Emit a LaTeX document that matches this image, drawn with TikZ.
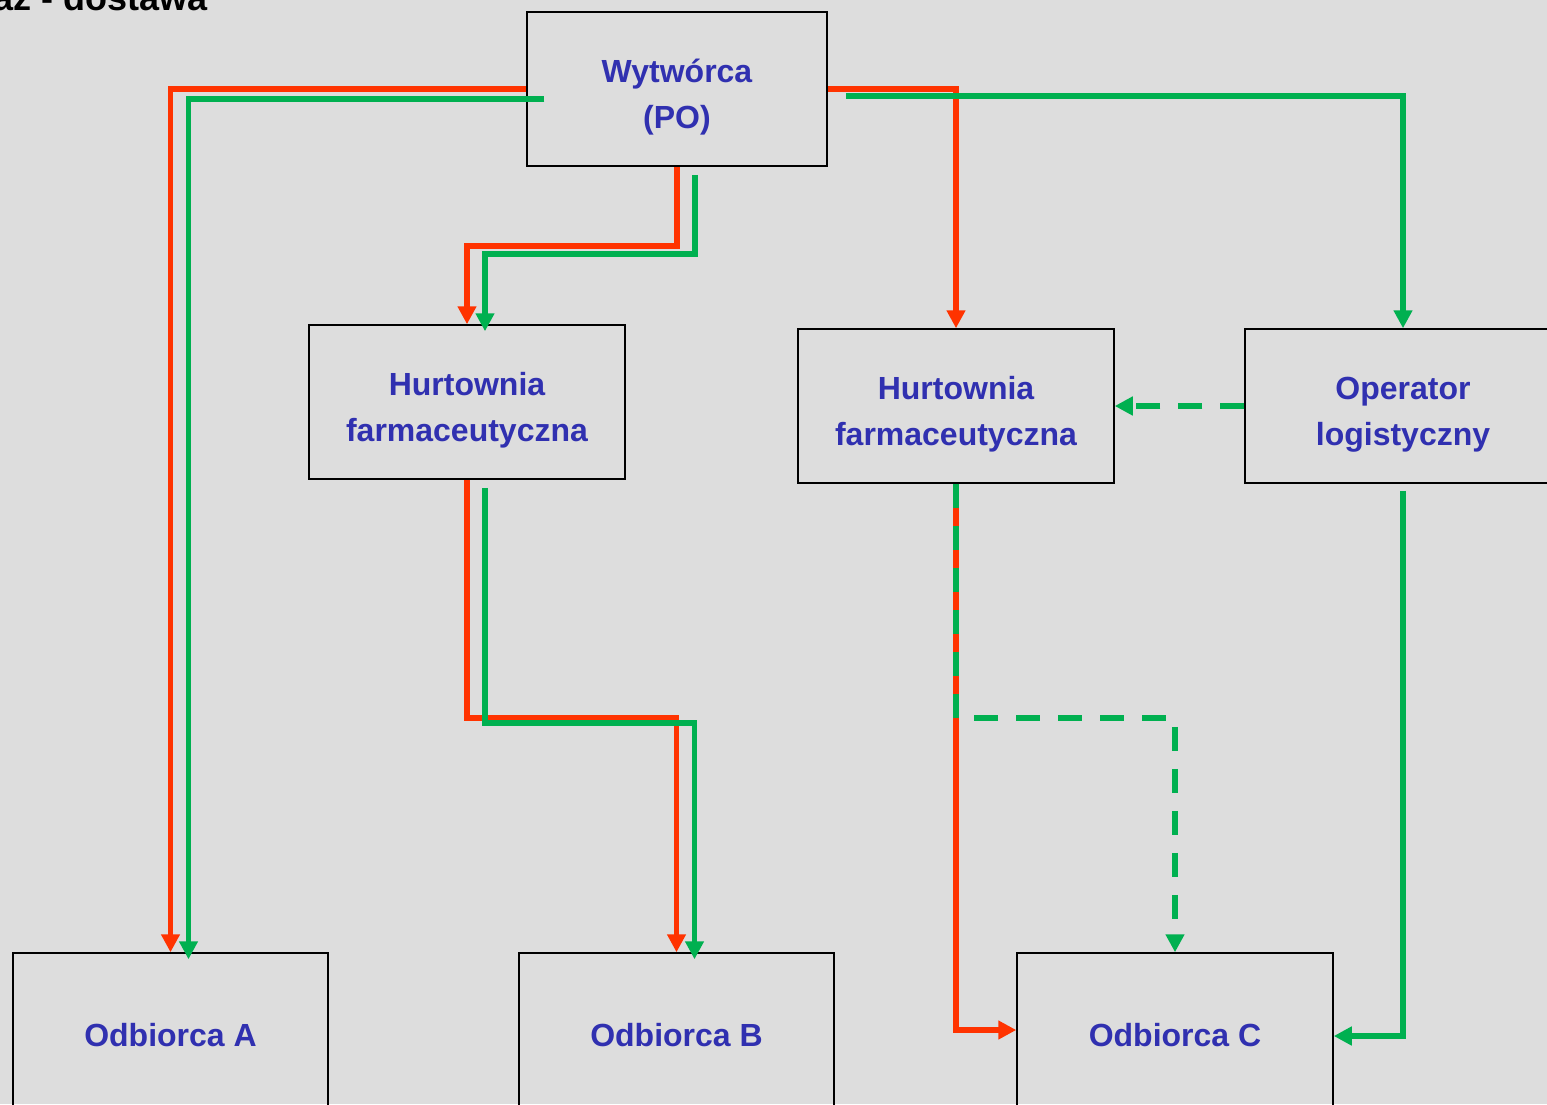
\documentclass[tikz,border=0pt]{standalone}
\usepackage{fontspec}
\setmainfont{Liberation Sans}
\usetikzlibrary{arrows.meta,calc}
\definecolor{bg}{RGB}{221,221,221}
\definecolor{redl}{RGB}{255,51,0}
\definecolor{greenl}{RGB}{0,176,80}
\definecolor{txt}{RGB}{48,48,176}
\begin{document}
\begin{tikzpicture}[x={(1pt,0pt)},y={(0pt,-1pt)},
  box/.style={draw=black, line width=1.5pt, minimum width=316pt, minimum height=154pt,
    inner sep=0pt, align=center, text=txt, font=\bfseries\fontsize{32}{46}\selectfont},
  tip/.style={-{Triangle[length=18pt,width=18pt]}},
  rl/.style={draw=redl, line width=5.5pt, tip},
  gl/.style={draw=greenl, line width=5.5pt, tip},
  gdash/.style={gl, dash pattern=on 24pt off 18pt}]
\useasboundingbox (0,0) rectangle (1547,1104);
\fill[bg] (0,0) rectangle (1547,1104);

\node[anchor=base east, inner sep=0pt, font=\bfseries\fontsize{36}{43}\selectfont] (title) at (208,10) {az - dostawa};

\node[box, minimum width=300pt] (wyt) at (677,89) {\rule{0pt}{43pt}Wytwórca\\(PO)\rule[-10pt]{0pt}{10pt}};
\node[box] (hl) at (467,402) {\rule{0pt}{43pt}Hurtownia\\farmaceutyczna\rule[-10pt]{0pt}{10pt}};
\node[box] (hr) at (956,406) {\rule{0pt}{43pt}Hurtownia\\farmaceutyczna\rule[-10pt]{0pt}{10pt}};
\node[box] (op) at (1403,406) {\rule{0pt}{43pt}Operator\\logistyczny\rule[-10pt]{0pt}{10pt}};
\node[box, minimum width=315pt] (oa) at (170.5,1030) {\rule[-10pt]{0pt}{52pt}Odbiorca A};
\node[box, minimum width=315pt] (ob) at (676.5,1030) {\rule[-10pt]{0pt}{52pt}Odbiorca B};
\node[box] (oc) at (1175,1030) {\rule[-10pt]{0pt}{52pt}Odbiorca C};

% Wytworca -> Odbiorca A
\draw[rl] (wyt.west) -| (oa.north);
\draw[gl] ($(wyt.west)+(18,10)$) -| ($(oa.north)+(18,7)$);
% Wytworca -> Hurtownia (left)
\draw[rl] (wyt.south) -- ++(0,79) -| (hl.north);
\draw[gl] ($(wyt.south)+(18,8)$) -- ++(0,79) -| ($(hl.north)+(18,7)$);
% Hurtownia (left) -> Odbiorca B
\draw[rl] (hl.south) -- ++(0,238) -| (ob.north);
\draw[gl] ($(hl.south)+(18,8)$) -- ++(0,235) -| ($(ob.north)+(18,7)$);
% Wytworca -> Hurtownia (right), Operator
\draw[rl] (wyt.east) -| (hr.north);
\draw[gl] ($(wyt.east)+(18,7)$) -| (op.north);
% Operator -> Hurtownia (right)
\draw[gdash] (op.west) -- (hr.east);
% Hurtownia (right) -> Odbiorca C
\draw[rl] (hr.south) |- (oc.west);
\draw[gdash] (hr.south) -- ++(0,234) -| (oc.north);
% Operator -> Odbiorca C
\draw[gl] ($(op.south)+(0,7)$) |- ($(oc.east)+(0,6)$);
\end{tikzpicture}
\end{document}
